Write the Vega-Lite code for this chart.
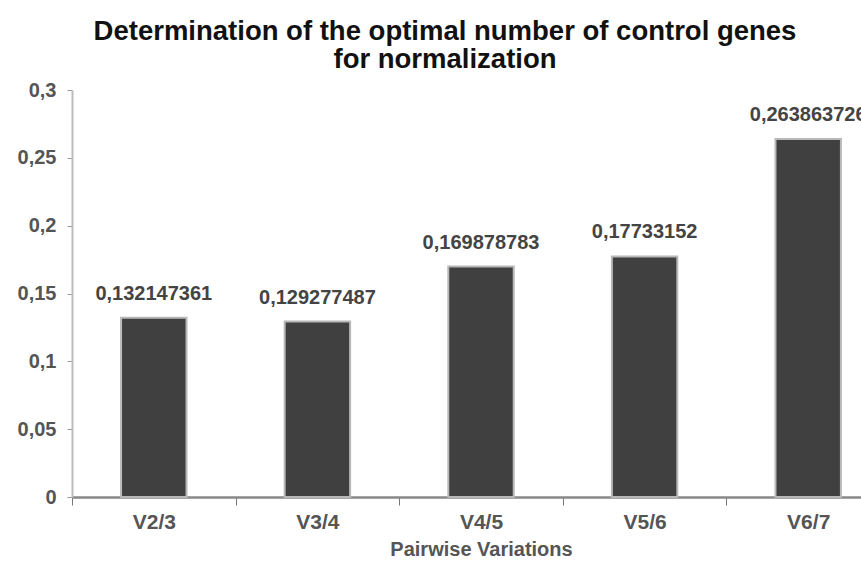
{
  "$schema": "https://vega.github.io/schema/vega-lite/v6.json",
  "autosize": {"type": "none"},
  "padding": {"left": 72, "top": 90, "right": 0, "bottom": 68},
  "width": 818,
  "height": 407,
  "background": "white",
  "title": {
    "text": ["Determination of the optimal number of control genes", "for normalization"],
    "anchor": "middle",
    "dx": -36,
    "offset": 7,
    "font": "Liberation Sans",
    "fontSize": 27.5,
    "fontWeight": "bold",
    "lineHeight": 28,
    "color": "#111111"
  },
  "data": {
    "values": [
      {"pair": "V2/3", "value": 0.132147361},
      {"pair": "V3/4", "value": 0.129277487},
      {"pair": "V4/5", "value": 0.169878783},
      {"pair": "V5/6", "value": 0.17733152},
      {"pair": "V6/7", "value": 0.263863726}
    ]
  },
  "config": {
    "locale": {"number": {"decimal": ",", "thousands": ".", "grouping": [3], "currency": ["", " €"]}},
    "view": {"stroke": null},
    "axis": {
      "labelFont": "Liberation Sans",
      "labelFontWeight": "bold",
      "titleFont": "Liberation Sans",
      "titleFontWeight": "bold",
      "grid": false
    }
  },
  "encoding": {
    "x": {
      "field": "pair",
      "type": "nominal",
      "sort": null,
      "scale": {"paddingInner": 0, "paddingOuter": 0},
      "axis": {
        "title": "Pairwise Variations",
        "titleFontSize": 20,
        "titleColor": "#555555",
        "titlePadding": 7,
        "labelAngle": 0,
        "labelFontSize": 21,
        "labelColor": "#555555",
        "labelPadding": 6,
        "tickBand": "extent",
        "tickSize": 8,
        "tickColor": "#777777",
        "domainColor": "#888888",
        "domainWidth": 2.5
      }
    },
    "y": {
      "field": "value",
      "type": "quantitative",
      "scale": {"domain": [0, 0.3], "nice": false},
      "axis": {
        "title": null,
        "values": [0, 0.05, 0.1, 0.15, 0.2, 0.25, 0.3],
        "format": "~g",
        "labelFontSize": 20,
        "labelColor": "#555555",
        "labelPadding": 11,
        "tickSize": 5,
        "tickColor": "#999999",
        "domainColor": "#bbbbbb",
        "domainWidth": 2
      }
    }
  },
  "layer": [
    {
      "mark": {"type": "bar", "width": {"band": 0.4}, "color": "#404040", "stroke": "#b8b8b8", "strokeWidth": 2}
    },
    {
      "mark": {"type": "text", "dy": -18, "font": "Liberation Sans", "fontWeight": "bold", "fontSize": 20, "color": "#444444", "baseline": "alphabetic"},
      "encoding": {
        "text": {"field": "value", "type": "quantitative", "format": ".9~f"}
      }
    }
  ]
}
